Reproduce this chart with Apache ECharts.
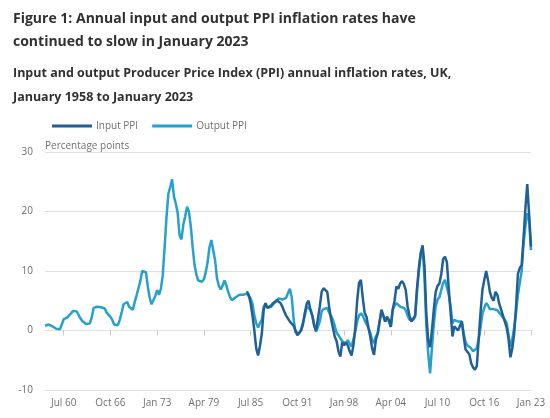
<!DOCTYPE html>
<html><head><meta charset="utf-8">
<script src="https://cdn.jsdelivr.net/npm/echarts@6/dist/echarts.min.js"></script>
<style>html,body{margin:0;padding:0;background:#fff}#c{width:550px;height:418px}</style>
</head><body><div id="c"></div>
<script>
// Quarterly points (Jan, Apr, Jul, Oct), January 1958 to January 2023
const startYear = 1958;
const quarterNames = ["Jan","Apr","Jul","Oct"];
const seriesNames = ["Input PPI","Output PPI"];
const yTicks = [-10, 0, 10, 20, 30];

const outputPPI = [
 0.8,0.9,1.0,0.8, 0.7,0.5,0.3,0.2, 0.2,0.3,1.9,2.0, 2.2,2.5,2.9,3.3,
 3.2,3.2,2.6,2.0, 1.6,1.3,1.1,0.8, 1.2,2.2,3.8,4.1, 4.0,4.0,3.9,3.9,
 3.7,3.0,2.7,2.3, 1.8,1.0,0.8,0.9, 1.8,3.0,4.4,4.2, 4.8,4.0,3.8,3.5,
 4.8,5.9,7.1,8.3, 10.0,10.3,9.8,7.4, 5.5,4.4,4.6,5.8, 6.8,6.0,7.0,9.3,
 14.0,19.0,23.0,24.1, 25.4,22.5,21.3,19.7, 16.0,15.3,17.8,19.2, 20.8,20.0,17.5,14.0,
 11.0,9.4,8.4,8.3, 8.2,8.6,9.8,11.5, 14.0,15.2,13.5,11.8, 8.8,7.5,6.9,7.5,
 8.4,7.6,6.5,5.6, 5.1,5.3,5.6,5.9, 6.0,6.1,6.0,5.7, 6.2,6.4,5.4,4.5,
 2.5,1.2,0.5,1.2, 1.8,4.0,4.5,3.8, 3.8,4.0,4.4,4.6, 5.0,5.4,5.2,5.2,
 5.2,5.5,5.8,7.0, 5.6,2.0,-0.3,-0.6, -0.5,0.2,0.5,2.5, 4.0,4.3,3.5,2.5,
 1.0,-0.2,0.6,1.5, 3.2,3.6,3.9,3.8, 3.0,2.5,1.8,0.8, -0.4,-0.8,-1.3,-1.8,
 -2.0,-2.2,-1.6,-2.2, -2.7,-1.5,-0.2,1.5, 2.5,2.9,2.5,1.7, 1.8,0.5,-0.4,-1.6,
 -2.1,-1.0,-0.5,1.5, 3.2,2.5,1.5,2.3, 2.0,0.6,3.5,4.2, 4.6,4.4,4.0,4.3,
 3.8,3.4,2.5,1.8, 1.5,1.8,2.3,6.5, 10.0,12.8,14.1,9.0, 0.8,-3.8,-7.2,-3.0,
 1.0,4.0,5.2,5.6, 6.8,8.0,8.5,8.2, 6.0,4.0,1.2,1.8, 1.5,1.5,1.2,1.5,
 -0.5,-2.0,-2.5,-2.8, -3.0,-3.5,-3.2,-3.0, -1.5,0.5,2.8,3.8, 4.6,4.2,3.6,3.8,
 3.6,3.7,3.4,3.0, 2.6,2.2,1.8,1.2, -0.8,-2.7,-1.5,0.5, 3.0,6.0,8.0,10.0,
 14.5,17.5,19.7,18.5, 13.5
];

// Input PPI begins January 1985
const inputStartYear = 1985;
const inputPPI = [
 6.6,6.0,4.6,2.5, 0.0,-3.0,-4.2,-2.6, -0.5,3.5,4.6,3.8, 3.9,4.2,4.6,4.8,
 5.1,5.2,4.6,4.0, 3.2,2.5,2.0,1.5, 1.8,0.8,0.0,-0.8, -1.0,0.0,1.0,3.0,
 4.5,5.0,3.5,2.5, 0.8,0.0,2.0,4.0, 6.5,7.1,7.1,6.5, 4.0,2.0,0.5,-1.0,
 -1.8,-3.5,-4.4,-2.0, -2.5,-2.0,-2.5,-3.5, -4.2,-2.5,0.5,5.0, 8.0,8.5,5.5,3.0,
 2.3,0.5,-1.0,-3.0, -4.1,-1.6,-0.5,1.5, 3.5,2.5,1.5,2.3, 1.8,0.6,3.5,5.0,
 7.4,7.0,7.9,8.3, 7.8,6.8,4.0,2.5, 1.5,2.0,2.5,7.0, 10.5,13.0,14.3,11.0,
 2.9,-1.6,-2.8,0.0, 3.5,6.5,7.5,7.9, 9.5,12.0,12.4,11.5, 7.0,3.0,-1.0,0.7,
 1.0,0.0,0.8,1.5, -1.0,-3.2,-3.0,-4.0, -5.5,-6.2,-6.6,-6.0, -1.5,3.0,6.8,8.5,
 10.0,8.5,6.5,5.5, 5.0,6.5,6.0,4.5, 3.5,2.5,1.5,0.5, -1.5,-4.5,-3.0,-0.5,
 4.0,9.5,10.5,11.0, 15.5,20.5,24.6,19.5, 14.1
];

const categories = outputPPI.map((v, i) =>
  quarterNames[i % 4] + " " + String((startYear + Math.floor(i / 4)) % 100).padStart(2, "0"));
const inputOffset = (inputStartYear - startYear) * 4;
const inputFull = categories.map((c, i) => i < inputOffset ? null : inputPPI[i - inputOffset]);

const showTick = (i) => i >= 10 && (i - 10) % 25 === 0;

const FONT = "Open Sans";
const chart = echarts.init(document.getElementById("c"));
chart.setOption({
  animation: false,
  backgroundColor: "#ffffff",
  textStyle: { fontFamily: FONT },
  title: [
    { text: "Figure 1: Annual input and output PPI inflation rates have\ncontinued to slow in January 2023",
      left: 13, top: 8, padding: 0,
      textStyle: { fontFamily: FONT, fontSize: 14, fontWeight: "bold", color: "#323132", lineHeight: 23 } },
    { text: "Input and output Producer Price Index (PPI) annual inflation rates, UK,\nJanuary 1958 to January 2023",
      left: 13, top: 61, padding: 0,
      textStyle: { fontFamily: FONT, fontSize: 12.5, fontWeight: "bold", color: "#323132", lineHeight: 24 } },
    { text: "Percentage points", left: 45, top: 141, padding: 0,
      textStyle: { fontFamily: FONT, fontSize: 10, fontWeight: "normal", color: "#707071" } }
  ],
  legend: {
    left: 52, top: 121, padding: 0,
    icon: "rect", itemWidth: 40, itemHeight: 3, itemGap: 14,
    textStyle: { fontFamily: FONT, fontSize: 10, color: "#707071", padding: [0, 0, 0, -1] },
    data: seriesNames
  },
  grid: { left: 45, right: 19, top: 152, bottom: 28, containLabel: false },
  xAxis: {
    type: "category", data: categories, boundaryGap: false,
    axisLine: { show: false },
    axisTick: { show: true, interval: (i) => showTick(i), length: 5, lineStyle: { color: "#c8c8c8" } },
    axisLabel: { interval: (i) => showTick(i), color: "#707071", fontSize: 10, fontFamily: FONT, margin: 8 },
    splitLine: { show: false }
  },
  yAxis: {
    type: "value", min: yTicks[0], max: yTicks[yTicks.length - 1], interval: 10,
    axisLine: { show: false }, axisTick: { show: false },
    axisLabel: { color: "#707071", fontSize: 10, fontFamily: FONT, margin: 12 },
    splitLine: { lineStyle: { color: "#e0e0e0", width: 1 } }
  },
  series: [
    { name: seriesNames[0], type: "line", data: inputFull, showSymbol: false, connectNulls: false,
      lineStyle: { width: 2.5, color: "#206095" }, itemStyle: { color: "#206095" }, z: 3 },
    { name: seriesNames[1], type: "line", data: outputPPI, showSymbol: false,
      lineStyle: { width: 2.5, color: "#27a0cc" }, itemStyle: { color: "#27a0cc" }, z: 2 }
  ]
});
</script>
</body></html>
